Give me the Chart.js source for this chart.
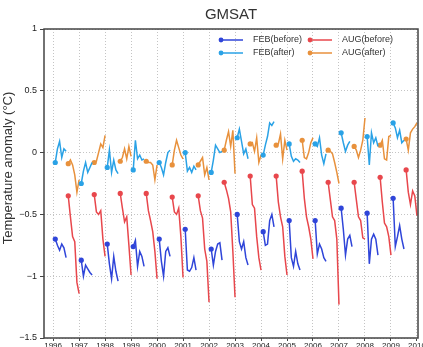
<!DOCTYPE html>
<html lang="en">
<head>
<meta charset="UTF-8">
<title>GMSAT</title>
<script src="https://cdn.jsdelivr.net/npm/chart.js"></script>
<style>
  body { margin: 0; background: #fff; }
</style>
</head>
<body>
<canvas id="gmsatChart" width="423" height="347"></canvas>
<script>
// one segment per year, monthly values
const years = [1996, 1997, 1998, 1999, 2000, 2001, 2002, 2003, 2004, 2005, 2006, 2007, 2008, 2009];
const xTickLabels = ['1996', '1997', '1998', '1999', '2000', '2001', '2002', '2003', '2004', '2005', '2006', '2007', '2008', '2009', '2010'];
const seriesLabels = ['FEB(before)', 'FEB(after)', 'AUG(before)', 'AUG(after)'];

// starts in February
const febBefore = [
  [-0.70, -0.75, -0.79, -0.74, -0.77, -0.85],
  [-0.87, -1.00, -0.91, -0.94, -0.97, -0.99],
  [-0.74, -0.90, -1.02, -0.84, -0.96, -1.04],
  [-0.76, -0.71, -0.92, -0.80, -0.84, -0.92],
  [-0.70, -0.88, -1.00, -0.80, -0.77, -0.84],
  [-0.62, -0.95, -0.96, -0.93, -0.85, -0.95],
  [-0.78, -0.91, -0.80, -0.74, -0.73, -0.87],
  [-0.50, -0.72, -0.78, -0.72, -0.85, -0.91],
  [-0.64, -0.75, -0.74, -0.55, -0.50, -0.60],
  [-0.55, -0.85, -0.92, -0.80, -0.90, -0.95],
  [-0.55, -0.82, -0.74, -0.78, -0.85, -0.88],
  [-0.45, -0.62, -0.83, -0.70, -0.67, -0.76],
  [-0.49, -0.90, -0.70, -0.66, -0.70, -0.83],
  [-0.37, -0.76, -0.68, -0.59, -0.70, -0.78]
];
const febAfter = [
  [-0.08, 0.03, 0.09, -0.04, 0.03, 0.01],
  [-0.25, -0.15, -0.08, -0.16, -0.12, -0.08],
  [-0.12, 0.02, -0.16, -0.06, -0.14, -0.17],
  [-0.14, 0.10, -0.05, -0.02, -0.06, -0.05],
  [-0.08, -0.12, -0.18, -0.08, 0.00, 0.02],
  [0.00, -0.15, -0.12, -0.16, -0.11, -0.14],
  [-0.16, -0.06, 0.06, 0.03, 0.00, 0.01],
  [0.12, 0.19, 0.09, -0.01, 0.03, -0.05],
  [-0.02, 0.06, 0.13, 0.24, 0.22, 0.25],
  [0.07, -0.03, -0.07, -0.05, -0.06, -0.08],
  [0.07, 0.05, 0.12, -0.02, -0.09, -0.01],
  [0.16, 0.08, 0.01, 0.06, 0.09],
  [0.13, -0.10, 0.16, 0.08, 0.12, 0.05],
  [0.24, 0.20, 0.12, 0.18, 0.08, 0.10]
];
// starts in August
const augBefore = [
  [-0.35, -0.52, -0.68, -0.72, -1.05, -1.14],
  [-0.34, -0.48, -0.50, -0.47, -0.70, -0.84],
  [-0.33, -0.45, -0.56, -0.52, -0.75, -0.99],
  [-0.33, -0.47, -0.55, -0.64, -0.80, -1.02],
  [-0.36, -0.48, -0.50, -0.45, -0.68, -1.01],
  [-0.35, -0.47, -0.53, -0.78, -0.88, -1.21],
  [-0.24, -0.30, -0.37, -0.48, -0.80, -1.17],
  [-0.19, -0.42, -0.45, -0.68, -0.85, -0.95],
  [-0.19, -0.40, -0.52, -0.60, -0.84, -0.99],
  [-0.15, -0.37, -0.52, -0.60, -0.70, -0.86],
  [-0.24, -0.38, -0.52, -0.55, -0.70, -1.23],
  [-0.24, -0.38, -0.52, -0.55, -0.69, -0.70],
  [-0.20, -0.40, -0.57, -0.60, -0.68, -0.83],
  [-0.14, -0.32, -0.42, -0.31, -0.35, -0.51]
];
const augAfter = [
  [-0.09, -0.06, -0.10, -0.18, -0.32, -0.22],
  [-0.08, -0.07, 0.00, 0.07, 0.04, 0.14],
  [-0.07, -0.04, 0.03, -0.05, 0.05, -0.03],
  [-0.07, -0.08, -0.08, -0.10, -0.22, -0.10],
  [-0.10, 0.02, 0.10, 0.04, -0.02, -0.05],
  [-0.10, -0.07, -0.04, -0.18, -0.12, -0.22],
  [0.02, 0.10, 0.17, 0.05, 0.18, -0.17],
  [0.07, 0.08, 0.01, 0.12, -0.08, -0.02],
  [0.06, 0.07, 0.15, -0.05, 0.10, 0.02],
  [0.10, -0.04, -0.05, 0.00, 0.08, 0.12],
  [0.02, 0.01, -0.01, -0.08, -0.16, -0.25],
  [0.05, 0.02, -0.04, 0.02, 0.10, 0.28],
  [0.06, 0.10, -0.05, -0.06, 0.13, 0.14],
  [0.11, 0.02, 0.16, 0.19, 0.21, 0.24]
];

// month index 1 = Feb, 7 = Aug; null point breaks the line between years
function buildPoints(segments, startMonth) {
  const pts = [];
  segments.forEach((seg, i) => {
    seg.forEach((v, j) => {
      pts.push({ x: years[i] + (startMonth + j) / 12, y: v, first: j === 0 });
    });
    pts.push({ x: years[i] + (startMonth + seg.length) / 12, y: null });
  });
  return pts;
}

function makeSet(label, segments, startMonth, color) {
  return {
    label: label,
    data: buildPoints(segments, startMonth),
    borderColor: color,
    backgroundColor: color,
    borderWidth: 1.5,
    spanGaps: false,
    pointRadius: ctx => (ctx.raw && ctx.raw.first ? 2.6 : 0),
    pointHoverRadius: 0,
    pointBorderWidth: 0,
    tension: 0
  };
}

const FONT = "'Liberation Sans', Arial, sans-serif";

// legend inside the plot, plus y title and the box around the plot
const extras = {
  id: 'extras',
  afterDraw(chart) {
    const ctx = chart.ctx;
    const a = chart.chartArea;
    ctx.save();
    ctx.strokeStyle = '#444';
    ctx.lineWidth = 1.5;
    ctx.strokeRect(a.left, a.top, a.right - a.left, a.bottom - a.top);

    const cols = [221, 310];
    const rows = [40, 53];
    ctx.font = '9px ' + FONT;
    ctx.textBaseline = 'middle';
    chart.data.datasets.forEach((ds, i) => {
      const x = cols[Math.floor(i / 2)];
      const y = rows[i % 2];
      ctx.strokeStyle = ds.borderColor;
      ctx.lineWidth = 1.5;
      ctx.beginPath();
      ctx.moveTo(x, y);
      ctx.lineTo(x + 22, y);
      ctx.stroke();
      ctx.fillStyle = ds.borderColor;
      ctx.beginPath();
      ctx.arc(x, y, 2.4, 0, Math.PI * 2);
      ctx.fill();
      ctx.fillStyle = '#333';
      ctx.fillText(ds.label, x + 32, y);
    });

    ctx.translate(8, 168);
    ctx.rotate(-Math.PI / 2);
    ctx.font = '13px ' + FONT;
    ctx.textAlign = 'center';
    ctx.fillStyle = '#333';
    ctx.fillText('Temperature anomaly (\u00B0C)', 0, 0);
    ctx.restore();
  }
};

new Chart(document.getElementById('gmsatChart'), {
  type: 'line',
  data: {
    datasets: [
      makeSet(seriesLabels[0], febBefore, 1, '#2f45d9'),
      makeSet(seriesLabels[1], febAfter, 1, '#2aa2e6'),
      makeSet(seriesLabels[2], augBefore, 7, '#e8474c'),
      makeSet(seriesLabels[3], augAfter, 7, '#e8913c')
    ]
  },
  options: {
    responsive: false,
    animation: false,
    events: [],
    layout: { padding: { left: 0, right: 5, top: 0, bottom: 0 } },
    plugins: {
      legend: { display: false },
      tooltip: { enabled: false },
      title: {
        display: true,
        text: 'GMSAT',
        fullSize: false,
        color: '#333',
        font: { family: "'Liberation Sans Narrow', " + FONT, size: 15, weight: 'normal' },
        padding: { top: 6, bottom: 5 }
      }
    },
    scales: {
      x: {
        type: 'linear',
        min: 1995.65,
        max: 2010.04,
        afterBuildTicks: s => { s.ticks = xTickLabels.map(t => ({ value: Number(t) })); },
        afterFit: s => { s.height = 9; s.paddingLeft = 0; s.paddingRight = 0; },
        ticks: {
          autoSkip: false,
          maxRotation: 0,
          padding: 0,
          color: '#222',
          font: { family: FONT, size: 8 },
          callback: v => String(v)
        },
        grid: { color: '#c4c4c4', tickLength: 3, tickColor: '#444', lineWidth: 1 },
        border: { display: false, dash: [1, 2] }
      },
      y: {
        min: -1.5,
        max: 1,
        afterFit: s => { s.width = 44; s.paddingTop = 0; s.paddingBottom = 0; },
        ticks: {
          stepSize: 0.5,
          padding: 3,
          color: '#222',
          font: { family: FONT, size: 9 },
          callback: v => (v < 0 ? '\u2212' + Math.abs(v) : String(v))
        },
        grid: { color: '#c4c4c4', tickLength: 4, tickColor: '#444', lineWidth: 1 },
        border: { display: false, dash: [1, 2] }
      }
    }
  },
  plugins: [extras]
});
</script>
</body>
</html>
